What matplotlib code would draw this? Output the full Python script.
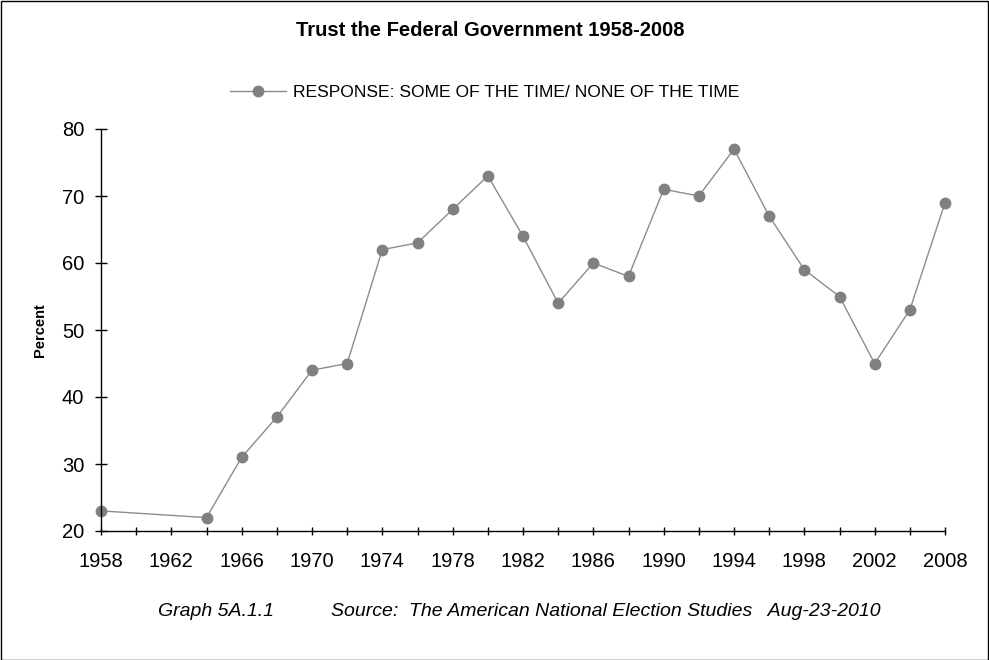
import matplotlib
matplotlib.use("Agg")
import matplotlib.pyplot as plt
from matplotlib.lines import Line2D
from matplotlib.patches import Rectangle

plt.rcParams['font.family'] = ['Liberation Sans', 'DejaVu Sans']

# Survey years and share answering "some of the time / none of the time"
years = [1958, 1964, 1966, 1968, 1970, 1972, 1974, 1976, 1978, 1980, 1982,
         1984, 1986, 1988, 1990, 1992, 1994, 1996, 1998, 2000, 2002, 2004, 2008]
percent = [23, 22, 31, 37, 44, 45, 62, 63, 68, 73, 64,
           54, 60, 58, 71, 70, 77, 67, 59, 55, 45, 53, 69]

# Category axis: every election year 1958-2004, then 2008
axis_years = list(range(1958, 2005, 2)) + [2008]
label_years = axis_years[::2]

series_label = "RESPONSE: SOME OF THE TIME/ NONE OF THE TIME"
title = "Trust the Federal Government 1958-2008"
y_ticks = [20, 30, 40, 50, 60, 70, 80]

positions = [axis_years.index(y) for y in years]

fig = plt.figure(figsize=(9.89, 6.6), dpi=100)
ax = fig.add_axes([101 / 989, 1 - 531 / 660, (945 - 101) / 989, (531 - 129) / 660])

gray = "#808080"
ax.plot(positions, percent, color="#8c8c8c", linewidth=1.0, marker="o",
        markersize=7.5, markerfacecolor=gray, markeredgecolor=gray, clip_on=False)

ax.set_xlim(0, len(axis_years) - 1)
ax.set_ylim(20, 80)
ax.set_xticks(range(0, len(axis_years), 2))
ax.set_xticklabels([str(y) for y in label_years])
ax.set_xticks(range(len(axis_years)), minor=True)
ax.set_yticks(y_ticks)
ax.tick_params(axis="x", which="both", direction="inout", length=6, width=1.0,
               labelsize=14.5, pad=12)
ax.tick_params(axis="y", direction="inout", length=8, width=1.0,
               labelsize=14.5, pad=8)
for s in ("top", "right"):
    ax.spines[s].set_visible(False)
for s in ("left", "bottom"):
    ax.spines[s].set_linewidth(1.0)

fig.text(40 / 989, 1 - 330 / 660, "Percent", rotation=90, ha="center", va="center",
         fontsize=10.5, fontweight="bold")

fig.text(490 / 989, 1 - 30 / 660, title, ha="center", va="center",
         fontsize=14.5, fontweight="bold")

handle = Line2D([], [], color="#8c8c8c", linewidth=1.0, marker="o", markersize=7.5,
                markerfacecolor=gray, markeredgecolor=gray)
fig.legend([handle], [series_label], loc="center", bbox_to_anchor=(485 / 989, 1 - 92 / 660),
           frameon=False, fontsize=12.6, handlelength=3.2, handletextpad=0.4)

fig.text(216 / 989, 1 - 611 / 660, "Graph 5A.1.1", ha="center", va="center",
         fontsize=14, style="italic")
fig.text(606 / 989, 1 - 611 / 660,
         "Source:  The American National Election Studies   Aug-23-2010",
         ha="center", va="center", fontsize=14, style="italic")

fig.patches.append(Rectangle((0.5 / 989, 0.5 / 660), 1 - 1.5 / 989, 1 - 1.5 / 660,
                             transform=fig.transFigure, fill=False,
                             edgecolor="black", linewidth=1.0))

fig.savefig("out.png", dpi=100)
